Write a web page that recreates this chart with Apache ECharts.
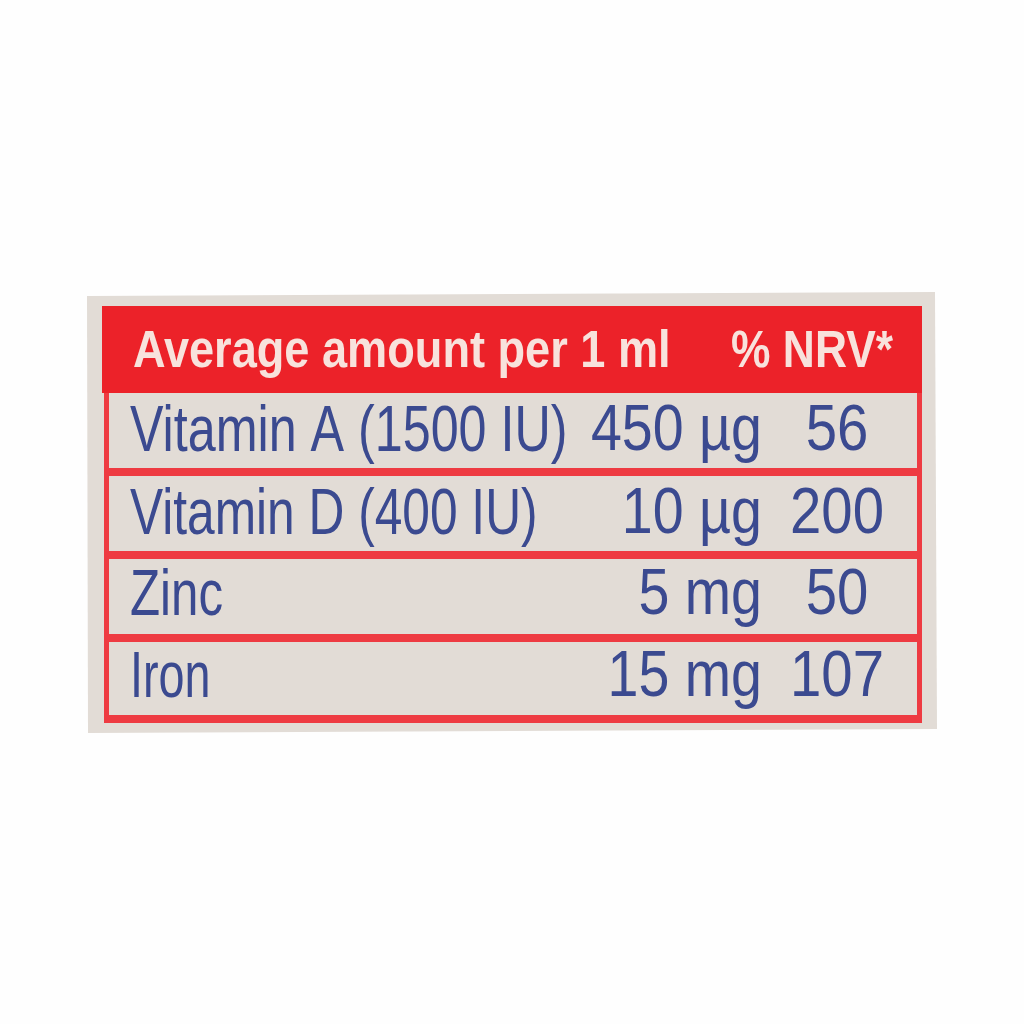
<!DOCTYPE html>
<html>
<head>
<meta charset="utf-8">
<style>
  html, body { margin: 0; padding: 0; background: #fefefe; }
  #main { width: 1024px; height: 1024px; }
</style>
<script src="https://cdn.jsdelivr.net/npm/echarts@6/dist/echarts.min.js"></script>
</head>
<body>
<div id="main"></div>
<script>
var headerLeft = 'Average amount per 1 ml';
var headerRight = '% NRV*';
var nutrients = ['Vitamin A (1500 IU)', 'Vitamin D (400 IU)', 'Zinc', 'Iron'];
var amounts = ['450 µg', '10 µg', '5 mg', '15 mg'];
var nrv = ['56', '200', '50', '107'];

// row names for the category axis, header first
var rows = ['header'].concat(nutrients);

// anchor x of each text column, on the hidden 0-1024 x axis
var colName = 130, colAmount = 762, colNrv = 837, colHeadL = 133, colHeadR = 893;
// the label print is uneven, so each row gets its own squeeze and nudge
var nameScale = [0.785, 0.776, 0.77, 0.73];
var rowNudge = [3, 3, 1, 0];

var textData = [
    { value: [colHeadL, 0], text: headerLeft, align: 'left', bold: true, sx: 0.885, dy: 5 },
    { value: [colHeadR, 0], text: headerRight, align: 'right', bold: true, sx: 0.87, dy: 5 }
];
nutrients.forEach(function (n, i) {
    textData.push({ value: [colName, i + 1], text: n, align: 'left', sx: nameScale[i], dy: rowNudge[i] });
    textData.push({ value: [colAmount, i + 1], text: amounts[i], align: 'right', sx: 0.868, dy: rowNudge[i] - 1 });
    textData.push({ value: [colNrv, i + 1], text: nrv[i], align: 'center', sx: 0.88, dy: rowNudge[i] - 1 });
});

var myChart = echarts.init(document.getElementById('main'));
var option = {
    animation: false,
    backgroundColor: '#fefefe',
    graphic: [{
        type: 'polygon',
        z: -1,
        shape: { points: [[87, 296], [935, 292], [937, 729], [88, 733]] },
        style: { fill: '#e2dcd6' }
    }],
    grid: { left: 0, right: 0, top: 306, height: 415 },
    xAxis: { type: 'value', min: 0, max: 1024, show: false },
    yAxis: { type: 'category', data: rows, inverse: true, show: false },
    series: [
        {
            // red band of each row, with the pale cell on top of it
            type: 'custom',
            data: rows.map(function (r, i) { return [0, i]; }),
            renderItem: function (params, api) {
                var i = api.value(1);
                var h = api.size([0, 1])[1];
                var top = api.coord([0, i])[1] - h / 2;
                var right = api.coord([922, i])[0];
                if (i === 0) {
                    var left0 = api.coord([102, i])[0];
                    return {
                        type: 'rect',
                        z2: 5,
                        shape: { x: left0, y: top, width: right - left0, height: h + 4 },
                        style: { fill: '#ec2229' }
                    };
                }
                var left = api.coord([104, i])[0];
                var last = i === rows.length - 1;
                var band = {
                    type: 'rect',
                    shape: { x: left, y: top - 1, width: right - left, height: h + (last ? 3 : 1) },
                    style: { fill: '#ee3b42' }
                };
                var cell = {
                    type: 'rect',
                    shape: { x: left + 5, y: top + 4, width: right - left - 10, height: h - (last ? 10 : 8) },
                    style: { fill: '#e2dcd6' }
                };
                return { type: 'group', children: [band, cell] };
            }
        },
        {
            type: 'custom',
            data: textData,
            z: 3,
            renderItem: function (params, api) {
                var d = textData[params.dataIndex];
                var p = api.coord(d.value);
                return {
                    type: 'text',
                    x: p[0],
                    y: p[1] + d.dy,
                    scaleX: d.sx,
                    style: {
                        text: d.text,
                        x: 0,
                        y: 0,
                        align: d.align,
                        verticalAlign: 'middle',
                        fontFamily: 'Liberation Sans',
                        fontWeight: d.bold ? 'bold' : 'normal',
                        fontSize: d.bold ? 51 : 64,
                        fill: d.bold ? '#f8e2dc' : '#3b4a90'
                    }
                };
            }
        }
    ]
};
myChart.setOption(option);
</script>
</body>
</html>
